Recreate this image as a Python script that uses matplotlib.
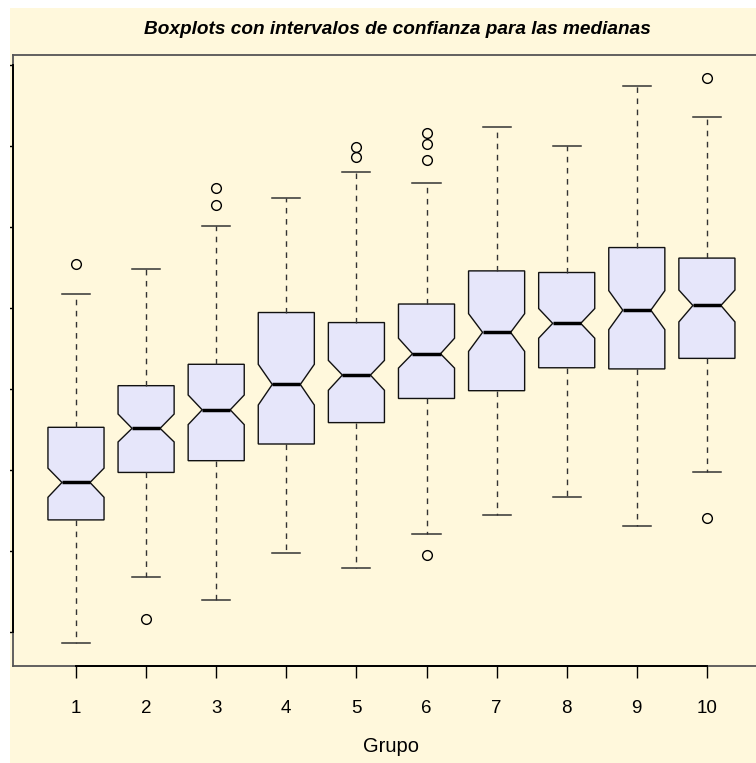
import matplotlib
matplotlib.use("Agg")
import matplotlib.pyplot as plt
from matplotlib.patches import Rectangle

plt.rcParams['font.family'] = ['Liberation Sans', 'DejaVu Sans']

# Group labels and summary statistics (five numbers, median notch limits, outliers)
grupos = ['1', '2', '3', '4', '5', '6', '7', '8', '9', '10']
whis_lo = [18.62, 26.74, 24.00, 29.77, 27.94, 32.07, 34.47, 36.68, 33.12, 39.70]
q1 = [33.84, 39.70, 41.15, 43.21, 45.85, 48.83, 49.79, 52.62, 52.48, 53.78]
mediana = [38.46, 45.14, 47.43, 50.56, 51.72, 54.35, 56.99, 58.10, 59.73, 60.31]
q3 = [45.27, 50.41, 53.05, 59.44, 58.20, 60.49, 64.58, 64.38, 67.46, 66.16]
whis_hi = [61.70, 64.81, 70.06, 73.56, 76.73, 75.48, 82.30, 80.00, 87.40, 83.56]
ic_inf = [36.63, 43.46, 45.60, 48.02, 49.84, 52.58, 54.64, 56.27, 57.33, 58.28]
ic_sup = [40.23, 46.91, 49.26, 53.05, 53.53, 56.27, 59.30, 59.93, 62.14, 62.22]
atipicos = [
    [65.44],
    [21.60],
    [72.74, 74.77],
    [],
    [78.60, 79.85],
    [29.52, 78.27, 80.19, 81.63],
    [],
    [],
    [],
    [34.09, 88.44],
]
y_ticks = [20, 30, 40, 50, 60, 70, 80, 90]

fondo = '#FFF8DC'
relleno = '#E6E6FA'

W, H = 756, 763
fig = plt.figure(figsize=(W / 100, H / 100), dpi=100, facecolor=fondo)

# plot region in pixel coordinates (the right edge runs past the canvas)
x0, x1 = 12.9, 770.0
y_top, y_bot = 55.0, 665.8
ax = fig.add_axes([x0 / W, 1 - y_bot / H, (x1 - x0) / W, (y_bot - y_top) / H])
ax.set_facecolor(fondo)

stats = []
for i in range(len(grupos)):
    stats.append(dict(med=mediana[i], q1=q1[i], q3=q3[i],
                      whislo=whis_lo[i], whishi=whis_hi[i],
                      cilo=ic_inf[i], cihi=ic_sup[i],
                      fliers=atipicos[i], label=grupos[i]))

posiciones = list(range(1, len(grupos) + 1))
ax.bxp(stats, positions=posiciones, widths=0.8, capwidths=0.4,
       shownotches=True, patch_artist=True,
       boxprops=dict(facecolor=relleno, edgecolor='#111111', linewidth=1.0),
       whiskerprops=dict(color='#333333', linewidth=1.0, linestyle=(0, (4, 4))),
       capprops=dict(color='#333333', linewidth=1.1),
       medianprops=dict(color='black', linewidth=2.5, solid_capstyle='butt'),
       flierprops=dict(marker='o', markersize=7, markerfacecolor='none',
                       markeredgecolor='black', markeredgewidth=1.0))

ax.set_xlim(0.1, 10.9)
ax.set_ylim(15.83, 91.23)

ax.set_xticks(posiciones)
ax.set_xticklabels(grupos, fontsize=13.5)
ax.set_yticks(y_ticks)
ax.tick_params(axis='x', direction='out', length=8.5, width=1.0, pad=16, colors='black')
ax.tick_params(axis='y', direction='out', length=8, width=1.0, labelleft=False)

for s in ax.spines.values():
    s.set_color('#555555')
    s.set_linewidth(1.3)

# axis lines spanning the first to last tick
ax.plot([posiciones[0], posiciones[-1]], [0, 0], transform=ax.get_xaxis_transform(),
        color='black', linewidth=1.4, clip_on=False, zorder=5)
ax.plot([0, 0], [y_ticks[0], y_ticks[-1]], transform=ax.get_yaxis_transform(),
        color='black', linewidth=1.4, clip_on=False, zorder=5)

fig.text(397 / W, 1 - 30 / H,
         'Boxplots con intervalos de confianza para las medianas',
         ha='center', va='center', fontsize=13.7, fontweight='bold', fontstyle='italic')
fig.text((x0 + x1) / 2 / W, 1 - 747 / H, 'Grupo', ha='center', va='center', fontsize=14.5)

# white margins on the left and top edges
fig.add_artist(Rectangle((0, 0), 10 / W, 1, transform=fig.transFigure,
                         facecolor='white', edgecolor='none', zorder=20))
fig.add_artist(Rectangle((0, 1 - 8 / H), 1, 8 / H, transform=fig.transFigure,
                         facecolor='white', edgecolor='none', zorder=20))

fig.savefig('out.png', dpi=100, facecolor=fondo)
